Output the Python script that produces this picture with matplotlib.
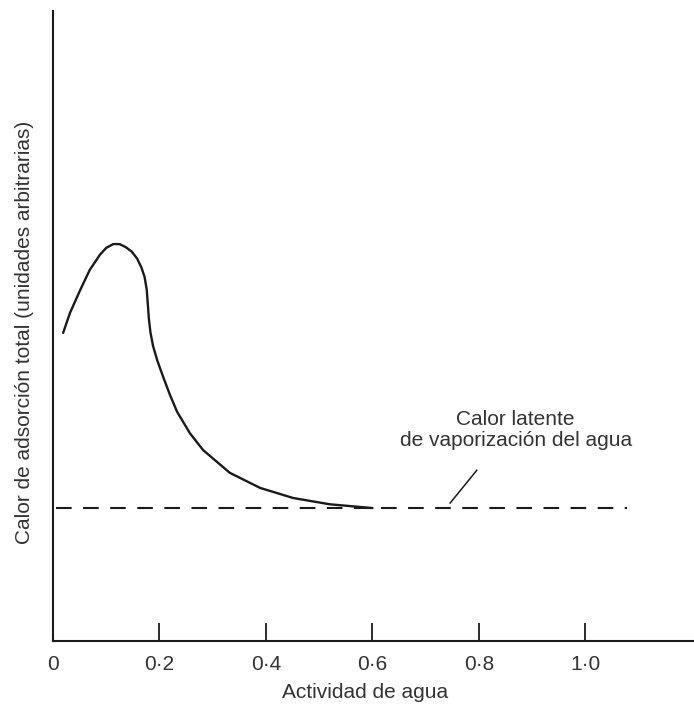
import matplotlib
matplotlib.use('Agg')
import matplotlib.pyplot as plt

plt.rcParams['font.family'] = ['Liberation Sans', 'DejaVu Sans']

# curva de calor de adsorción
actividad = [0.019, 0.032, 0.051, 0.069, 0.088, 0.100, 0.113, 0.125, 0.137, 0.148,
             0.158, 0.166, 0.172, 0.176, 0.178, 0.180, 0.183, 0.188, 0.196, 0.207,
             0.220, 0.233, 0.257, 0.282, 0.332, 0.389, 0.451, 0.520, 0.600]
calor = [4.89, 5.21, 5.57, 5.89, 6.13, 6.24, 6.30, 6.30, 6.25, 6.18,
         6.07, 5.93, 5.78, 5.58, 5.36, 5.12, 4.90, 4.68, 4.45, 4.19,
         3.90, 3.64, 3.30, 3.03, 2.67, 2.43, 2.27, 2.17, 2.11]

# calor latente de vaporización (línea discontinua)
calor_latente = 2.11
latente_x = [0.005, 1.078]

ticks_x = [0.2, 0.4, 0.6, 0.8, 1.0]
tick_labels = ['0·2', '0·4', '0·6', '0·8', '1·0']

fig = plt.figure(figsize=(6.94, 7.06), dpi=100)
ax = fig.add_axes([53 / 694, 65 / 706, 641 / 694, 630 / 706])

ax.plot(actividad, calor, color='#1a1a1a', linewidth=1.7,
        solid_capstyle='round', solid_joinstyle='round')
ax.plot(latente_x, [calor_latente, calor_latente], color='#1a1a1a', linewidth=1.5,
        dashes=(7.5, 5.5))

# anotación
ax.plot([0.746, 0.796], [2.19, 2.71], color='#1a1a1a', linewidth=1.1)
ax.text(0.869, 3.35, 'Calor latente\nde vaporización del agua', ha='center', va='center',
        multialignment='center', fontsize=15, color='#333333', linespacing=1.15)

ax.set_xlim(0, 1.204)
ax.set_ylim(0, 10)

ax.spines['top'].set_visible(False)
ax.spines['right'].set_visible(False)
for s in ['left', 'bottom']:
    ax.spines[s].set_linewidth(1.5)
    ax.spines[s].set_color('#1a1a1a')

ax.set_xticks(ticks_x)
ax.set_xticklabels(tick_labels)
ax.tick_params(axis='x', direction='in', length=13, width=1.3, pad=10,
               labelsize=15, labelcolor='#333333', color='#1a1a1a')
ax.set_yticks([])
ax.text(0, -0.0222, '0', transform=ax.get_xaxis_transform(), ha='center', va='top',
        fontsize=15, color='#333333')

ax.set_xlabel('Actividad de agua', fontsize=15, color='#333333')
ax.xaxis.label.set_va('center')
ax.xaxis.set_label_coords(0.487, -0.081)
ax.set_ylabel('Calor de adsorción total (unidades arbitrarias)', fontsize=15, color='#333333')
ax.yaxis.label.set_va('center')
ax.yaxis.set_label_coords(-0.045, 0.49)

fig.savefig('out.png', dpi=100)
